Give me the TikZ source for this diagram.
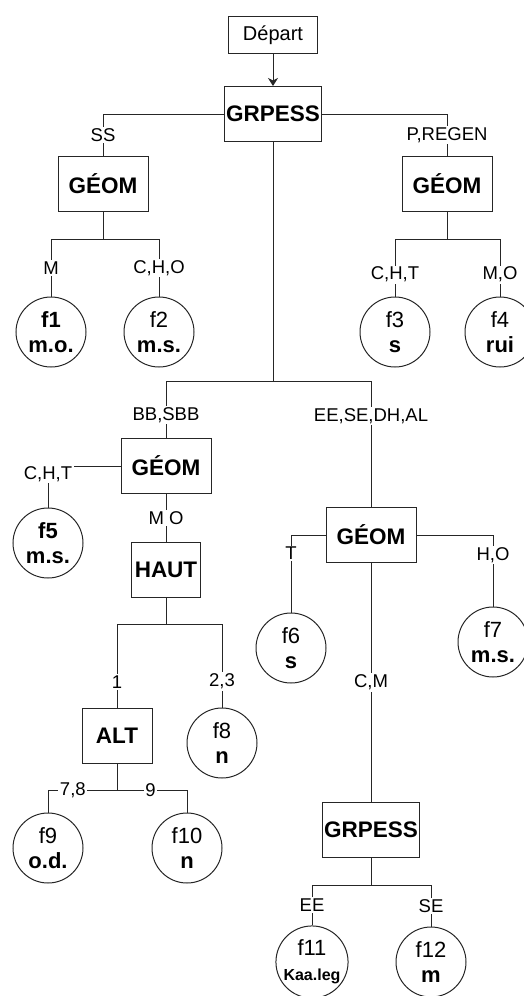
\documentclass[tikz,border=0pt]{standalone}
\usepackage{fontspec}
\setmainfont{Liberation Sans}
\usepackage{tikz}
\usetikzlibrary{positioning,arrows.meta}

\begin{document}
\begin{tikzpicture}[
  x=1pt, y=-1pt,
  ln/.style   = {draw=black!85, line width=1pt},
  bx/.style   = {draw=black!85, line width=1pt, inner sep=0pt, minimum height=55pt,
                 font=\fontsize{22.5}{24}\selectfont\bfseries},
  leaf/.style = {circle, draw=black!85, line width=1pt, minimum size=70pt, inner sep=0pt,
                 align=center, font=\fontsize{22}{25}\selectfont},
  % white fill so each label cuts the branch it sits on
  lbl/.style  = {fill=white, inner sep=1.5pt, font=\fontsize{18.5}{20}\selectfont},
  ar/.style   = {-{Stealth[length=8pt, width=10pt, inset=2.5pt]}, draw=black!85, line width=1pt},
]
\useasboundingbox (0,0) rectangle (523,996);

% decision boxes
\node[bx, font=\fontsize{20}{22}\selectfont, minimum width=89pt, minimum height=37pt]
                                   (depart)  at (273,35)  {Départ};
\node[bx, minimum width=97pt]      (grpessA) at (273,114) {GRPESS};
\node[bx, minimum width=90pt]      (geomSS)  at (103,184) {GÉOM};
\node[bx, minimum width=90pt]      (geomP)   at (447,184) {GÉOM};
\node[bx, minimum width=90pt]      (geomBB)  at (166,466) {GÉOM};
\node[bx, minimum width=69pt]      (haut)    at (166,570) {HAUT};
\node[bx, minimum width=90pt]      (geomEE)  at (371,535) {GÉOM};
\node[bx, minimum width=70pt]      (alt)     at (117,736) {ALT};
\node[bx, minimum width=97pt]      (grpessB) at (371,830) {GRPESS};

% leaves: name / x / y / weight of first line / result
\foreach \n/\x/\y/\w/\t in {
  f1/51/332/b/m.o., f2/159/332/m/m.s., f3/395/332/m/s, f4/500/332/m/rui,
  f5/48/543/b/m.s., f6/291/648/m/s, f7/493/642/m/m.s., f8/222/743/m/n,
  f9/48/848/m/o.d., f10/187/848/m/n,
  f11/312/962/m/{\fontsize{16}{17}\selectfont Kaa.leg}, f12/431/962/m/m}
  \node[leaf] (\n) at (\x,\y) {{\fontseries{\w}\selectfont\n}\\\textbf{\t}};

% bus points under the boxes
\coordinate (busSS) at (103,239);
\coordinate (busP)  at (447,239);
\coordinate (busM)  at (273,381);
\coordinate (busH)  at (166,624);
\coordinate (busA)  at (117,790);
\coordinate (busG)  at (371,885);

\draw[ar] (depart) -- (grpessA);
\foreach \a/\b in {geomSS/busSS, geomP/busP, grpessA/busM, haut/busH, alt/busA, grpessB/busG}
  \draw[ln] (\a.south) -- (\b);

\foreach \a/\b/\p/\l in {
  grpessA.west/geomSS/0.75/SS, grpessA.east/geomP/0.75/{P,REGEN},
  busSS/f1/0.75/M, busSS/f2/0.75/{C,H,O}, busP/f3/0.81/{C,H,T}, busP/f4/0.81/{M,O},
  busM/geomBB/0.8/{BB,SBB}, busM/geomEE/0.64/{EE,SE,DH,AL},
  geomBB.west/f5/0.6/{C,H,T},
  geomEE.west/f6/0.62/T, geomEE.east/f7/0.64/{H,O},
  busH/alt/0.845/1, busH/f8/0.845/{2,3},
  busA/f9/0.32/{7,8}, busA/f10/0.24/9,
  busG/f11/0.75/EE, busG/f12/0.75/SE}
  \draw[ln] (\a) -| node[lbl, pos=\p] {\l} (\b.north);

\draw[ln] (geomBB) -- node[lbl] {M O} (haut);
\draw[ln] (geomEE) -- node[lbl] {C,M} (grpessB);
\end{tikzpicture}
\end{document}
